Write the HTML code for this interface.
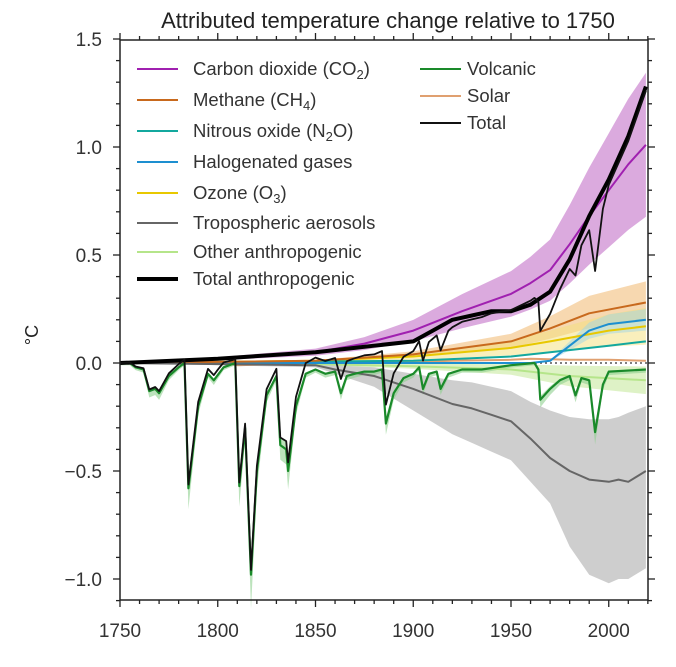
<!DOCTYPE html>
<html><head><meta charset="utf-8"><style>
html,body{margin:0;padding:0;background:#fff;}
svg{display:block;font-family:"Liberation Sans",Arial,sans-serif;}
</style></head><body>
<svg id="chart" width="676" height="667" viewBox="0 0 676 667">
<text x="388" y="28" text-anchor="middle" font-size="22" fill="#222">Attributed temperature change relative to 1750</text>
<text x="0" y="0" transform="translate(38,335) rotate(-90)" text-anchor="middle" font-size="18" fill="#222">°C</text>
<g id="bands"></g><g id="lines"></g><g id="axes"></g><g id="legend"></g>
</svg>
<script>
// ---- data ----
const co2Years=[1750,1800,1850,1875,1900,1925,1950,1960,1970,1980,1990,2000,2010,2019];
const co2Vals=[0,0.02,0.05,0.09,0.15,0.24,0.32,0.37,0.43,0.55,0.68,0.80,0.92,1.01];
const anthroYears=[1750,1800,1850,1870,1880,1900,1910,1920,1930,1940,1950,1960,1970,1980,1990,2000,2010,2019];
const anthroVals=[0,0.02,0.05,0.07,0.08,0.10,0.15,0.20,0.22,0.24,0.24,0.27,0.33,0.48,0.68,0.85,1.05,1.28];
const volcYears=[1750,1755,1758,1762,1765,1768,1770,1775,1780,1783,1785,1790,1795,1798,1803,1809,1811,1814,1817,1820,1825,1830,1832,1835,1836,1840,1845,1850,1855,1860,1863,1866,1870,1875,1880,1884,1886,1890,1895,1900,1903,1905,1908,1912,1914,1918,1925,1935,1950,1962,1964,1965,1970,1975,1980,1983,1986,1990,1993,1997,2000,2019];
const volcVals=[0,0,-0.02,-0.03,-0.13,-0.12,-0.14,-0.06,-0.02,0,-0.58,-0.2,-0.05,-0.08,-0.02,0,-0.57,-0.3,-0.98,-0.5,-0.15,-0.06,-0.38,-0.4,-0.5,-0.2,-0.05,-0.03,-0.05,-0.04,-0.14,-0.06,-0.05,-0.04,-0.04,-0.03,-0.28,-0.14,-0.07,-0.05,-0.02,-0.12,-0.05,-0.04,-0.12,-0.05,-0.03,-0.03,-0.01,0,-0.03,-0.17,-0.12,-0.08,-0.06,-0.15,-0.07,-0.08,-0.32,-0.1,-0.04,-0.03];
const aerYears=[1750,1850,1860,1880,1900,1920,1930,1940,1950,1960,1970,1980,1990,2000,2005,2010,2019];
const aerVals=[0,-0.01,-0.03,-0.06,-0.12,-0.19,-0.21,-0.24,-0.27,-0.35,-0.44,-0.50,-0.54,-0.55,-0.54,-0.55,-0.50];
const aerLow=[0,-0.02,-0.05,-0.11,-0.22,-0.33,-0.37,-0.41,-0.45,-0.55,-0.65,-0.85,-0.98,-1.02,-1.00,-1.00,-0.95];
const aerHigh=[0,0,-0.01,-0.02,-0.05,-0.08,-0.09,-0.11,-0.13,-0.18,-0.22,-0.25,-0.26,-0.26,-0.25,-0.23,-0.20];
const ch4Years=[1750,1850,1900,1950,1970,1990,2019];
const ch4Vals=[0,0.01,0.04,0.10,0.16,0.23,0.28];
const n2oYears=[1750,1900,1950,1970,2000,2019];
const n2oVals=[0,0.01,0.03,0.05,0.08,0.10];
const halYears=[1750,1960,1970,1980,1990,2000,2019];
const halVals=[0,0,0.01,0.08,0.15,0.18,0.20];
const o3Years=[1750,1850,1900,1950,1970,2000,2019];
const o3Vals=[0,0.01,0.03,0.07,0.10,0.15,0.17];
const otherYears=[1750,1850,1900,1950,1980,2019];
const otherVals=[0,-0.005,-0.015,-0.03,-0.06,-0.08];
const solarYears=[1750,1800,1810,1830,1850,1880,1900,1920,1950,1960,1980,2000,2019];
const solarVals=[0,0.005,-0.01,-0.005,0.005,0,0.005,0.01,0.015,0.02,0.015,0.015,0.01];
const xTicks=[1750,1800,1850,1900,1950,2000];
const yTicks=[-1.0,-0.5,0.0,0.5,1.0,1.5];
const yTickLabels=["\u22121.0","\u22120.5","0.0","0.5","1.0","1.5"];

// ---- axes ----
const X0=120,Y0=363,PX=1.955,PY=216,L=120,R=648,T=40,B=600;
const xs=y=>X0+(y-1750)*PX, ys=v=>Y0-v*PY;
const NS="http://www.w3.org/2000/svg";
function mk(tag,attrs,parent){const e=document.createElementNS(NS,tag);for(const k in attrs)e.setAttribute(k,attrs[k]);parent.appendChild(e);return e;}
function interp(yrs,vals,y){if(y<=yrs[0])return vals[0];for(let i=1;i<yrs.length;i++){if(y<=yrs[i]){const t=(y-yrs[i-1])/(yrs[i]-yrs[i-1]);return vals[i-1]+t*(vals[i]-vals[i-1]);}}return vals[vals.length-1];}
function pathD(yrs,vals){return yrs.map((y,i)=>(i?"L":"M")+xs(y).toFixed(1)+","+ys(vals[i]).toFixed(1)).join("");}
function bandD(yrs,lo,hi){let d=pathD(yrs,hi);for(let i=yrs.length-1;i>=0;i--)d+="L"+xs(yrs[i]).toFixed(1)+","+ys(lo[i]).toFixed(1);return d+"Z";}
const bands=document.getElementById('bands'),lines=document.getElementById('lines'),axes=document.getElementById('axes'),leg=document.getElementById('legend');
function band(yrs,lo,hi,fill,op,name){const p=mk('path',{d:bandD(yrs,lo,hi),fill:fill,'fill-opacity':op},bands);

}
function line(yrs,vals,col,w,name,extra){const p=mk('path',Object.assign({d:pathD(yrs,vals),fill:'none',stroke:col,'stroke-width':w,'stroke-linejoin':'round'},extra||{}),lines);

}
const sc=(a,f)=>a.map(v=>v*f);
band(aerYears,aerLow,aerHigh,'#bdbdbd',0.75,'aerosol-band');
band(co2Years,sc(co2Vals,0.67),sc(co2Vals,1.33),'#c77dcc',0.65,'co2-band');
band(ch4Years,sc(ch4Vals,0.7),sc(ch4Vals,1.35),'#f0b870',0.55,'methane-band');
band(o3Years,sc(o3Vals,0.5),sc(o3Vals,1.5),'#f3e07a',0.5,'ozone-band');
band(halYears,sc(halVals,0.75),sc(halVals,1.25),'#9fd6e6',0.5,'halogen-band');
band(otherYears,sc(otherVals,1.8),sc(otherVals,0.2),'#c8eaa0',0.6,'other-band');
const vLow=volcVals.map(v=>v*1.15-0.01),vHigh=volcVals.map(v=>v*0.9);
band(volcYears,vLow,vHigh,'#8fd08f',0.6,'volcanic-band');
line(otherYears,otherVals,'#b5e58a',2,'other-anthropogenic-line');
line(solarYears,solarVals,'#e0a070',2,'solar-line');
mk('line',{x1:L,x2:R,y1:ys(0),y2:ys(0),stroke:'#555','stroke-width':1.5,'stroke-dasharray':'2,3'},lines);
line(o3Years,o3Vals,'#e8c800',2,'ozone-line');
line(n2oYears,n2oVals,'#13a89e',2,'nitrous-oxide-line');
line(halYears,halVals,'#1d8fd0',2,'halogenated-line');
line(ch4Years,ch4Vals,'#c8691d',2,'methane-line');
line(aerYears,aerVals,'#666',2,'aerosol-line');
line(co2Years,co2Vals,'#a020b0',2,'co2-line');
line(volcYears,volcVals,'#1a8a2a',2.2,'volcanic-line');
line(anthroYears,anthroVals,'#000',4,'total-anthropogenic-line');
const totYears=Array.from(new Set(volcYears.concat(anthroYears))).sort((a,b)=>a-b);
const totVals=totYears.map(y=>interp(anthroYears,anthroVals,y)+interp(volcYears,volcVals,y)+interp(solarYears,solarVals,y));
line(totYears,totVals,'#111',1.8,'total-line');

mk('rect',{x:L,y:T,width:R-L,height:B-T,fill:'none',stroke:'#222','stroke-width':1.5},axes);
for(let y=1750;y<=2020;y+=10){const maj=(y-1750)%50===0;const x=xs(y);
mk('line',{x1:x,x2:x,y1:B,y2:B+(maj?7:4),stroke:'#222','stroke-width':1.3},axes);
mk('line',{x1:x,x2:x,y1:T,y2:T-(maj?7:4),stroke:'#222','stroke-width':1.3},axes);}
for(let i=-11;i<=15;i++){const v=i/10,y=ys(v),maj=i%5===0;
mk('line',{x1:L,x2:L-(maj?7:4),y1:y,y2:y,stroke:'#222','stroke-width':1.3},axes);
mk('line',{x1:R,x2:R+(maj?7:4),y1:y,y2:y,stroke:'#222','stroke-width':1.3},axes);}
xTicks.forEach(y=>{const t=mk('text',{x:xs(y),y:637,'text-anchor':'middle','font-size':19,fill:'#333'},axes);t.textContent=y;

});
yTicks.forEach((v,i)=>{const t=mk('text',{x:102,y:ys(v)+7,'text-anchor':'end','font-size':19,fill:'#333'},axes);t.textContent=yTickLabels[i];

});

const legItems=[
["Carbon dioxide (CO<tspan font-size='13' dy='4'>2</tspan><tspan dy='-4'>)</tspan>",'#a020b0',2,137,75,193],
["Methane (CH<tspan font-size='13' dy='4'>4</tspan><tspan dy='-4'>)</tspan>",'#c8691d',2,137,106,193],
["Nitrous oxide (N<tspan font-size='13' dy='4'>2</tspan><tspan dy='-4'>O)</tspan>",'#13a89e',2,137,137,193],
["Halogenated gases",'#1d8fd0',2,137,168,193],
["Ozone (O<tspan font-size='13' dy='4'>3</tspan><tspan dy='-4'>)</tspan>",'#e8c800',2,137,199,193],
["Tropospheric aerosols",'#666',2,137,229,193],
["Other anthropogenic",'#b5e58a',2,137,258,193],
["Total anthropogenic",'#000',4,137,285,193],
["Volcanic",'#1a8a2a',2,420,75,467],
["Solar",'#e0a070',2,420,102,467],
["Total",'#111',2,420,129,467]];
legItems.forEach((it,i)=>{const g=mk('g',{},leg);


mk('line',{x1:it[3],x2:it[3]+41,y1:it[4]-6,y2:it[4]-6,stroke:it[1],'stroke-width':it[2]},g);
const t=mk('text',{x:it[5],y:it[4],'font-size':18.5,fill:'#333'},g);t.innerHTML=it[0];});
</script>
</body></html>
